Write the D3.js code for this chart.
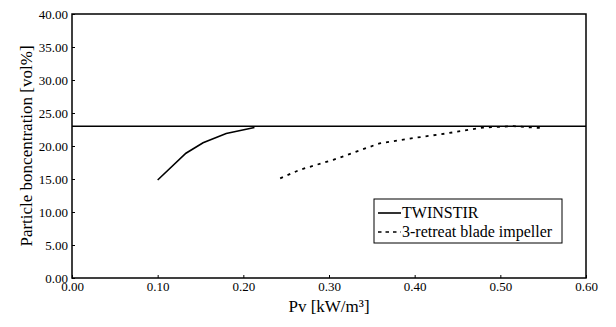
<!DOCTYPE html>
<html>
<head>
<meta charset="utf-8">
<script src="https://cdn.jsdelivr.net/npm/d3@7"></script>
<style>
  body { margin: 0; background: #fff; }
  text { font-family: "Liberation Serif", "DejaVu Serif", serif; fill: #000; }
</style>
</head>
<body>
<div id="chart"></div>
<script>
/* data */
var twinstirPv = [0.10, 0.133, 0.153, 0.18, 0.213];
var twinstirConc = [14.85, 18.9, 20.5, 21.9, 22.8];
var bladePv = [0.243, 0.266, 0.305, 0.359, 0.398, 0.437, 0.48, 0.515, 0.55];
var bladeConc = [15.1, 16.4, 17.9, 20.4, 21.2, 21.9, 22.8, 23.0, 22.7];
var initialConc = 23;
var xTicks = [0, 0.1, 0.2, 0.3, 0.4, 0.5, 0.6];
var yTicks = [0, 5, 10, 15, 20, 25, 30, 35, 40];
var legendLabels = ["TWINSTIR", "3-retreat blade impeller"];

/* size of the graphic */
var width = 616, height = 327;
var plotLeft = 72, plotRight = 586, plotTop = 14, plotBottom = 278;

var svg = d3.select("#chart")
	.append("svg")
		.attr("width", width)
		.attr("height", height);

var x = d3.scaleLinear().domain([0, 0.6]).range([plotLeft, plotRight]);
var y = d3.scaleLinear().domain([0, 40]).range([plotBottom, plotTop]);

/* axes with small inward ticks */
var xAxis = svg.append("g")
	.attr("transform", "translate(0," + plotBottom + ")")
	.call(d3.axisBottom(x).tickValues(xTicks).tickSize(-3).tickPadding(4).tickFormat(d3.format(".2f")));
var yAxis = svg.append("g")
	.attr("transform", "translate(" + plotLeft + ",0)")
	.call(d3.axisLeft(y).tickValues(yTicks).tickSize(-3).tickPadding(4).tickFormat(d3.format(".2f")));

[xAxis, yAxis].forEach(function(g) {
	g.select(".domain").remove();
	g.selectAll("line").attr("stroke", "#000");
	g.selectAll("text").style("font-family", "Liberation Serif").style("font-size", "13px");
});

/* plot frame */
svg.append("rect")
	.attr("x", plotLeft).attr("y", plotTop)
	.attr("width", plotRight - plotLeft).attr("height", plotBottom - plotTop)
	.attr("fill", "none").attr("stroke", "#000").attr("stroke-width", 1.5);

/* horizontal line of the initial concentration */
svg.append("line")
	.attr("x1", x(0)).attr("x2", x(0.6))
	.attr("y1", y(initialConc)).attr("y2", y(initialConc))
	.attr("stroke", "#000").attr("stroke-width", 1.6);

var line = d3.line().x(function(d) { return x(d[0]); }).y(function(d) { return y(d[1]); });

svg.append("path")
	.datum(d3.zip(twinstirPv, twinstirConc))
	.attr("d", line)
	.attr("fill", "none").attr("stroke", "#000").attr("stroke-width", 1.6);

svg.append("path")
	.datum(d3.zip(bladePv, bladeConc))
	.attr("d", line)
	.attr("fill", "none").attr("stroke", "#000").attr("stroke-width", 1.8)
	.style("stroke-dasharray", "3, 5");

/* legend */
var lg = svg.append("g").attr("transform", "translate(374,199)");
lg.append("rect")
	.attr("width", 188).attr("height", 44)
	.attr("fill", "#fff").attr("stroke", "#000").attr("stroke-width", 1);
legendLabels.forEach(function(name, i) {
	var ly = 14 + i * 19;
	lg.append("line")
		.attr("x1", 4).attr("x2", 27).attr("y1", ly).attr("y2", ly)
		.attr("stroke", "#000").attr("stroke-width", 1.6)
		.style("stroke-dasharray", i === 1 ? "3.5, 4" : null);
	lg.append("text")
		.attr("x", 28).attr("y", ly + 5)
		.style("font-size", "16px")
		.text(name);
});

/* axis titles */
svg.append("text")
	.attr("text-anchor", "middle")
	.attr("x", (plotLeft + plotRight) / 2).attr("y", 312)
	.style("font-size", "17px")
	.text("Pv [kW/m³]");

svg.append("text")
	.attr("text-anchor", "middle")
	.attr("transform", "translate(32," + ((plotTop + plotBottom) / 2) + ") rotate(-90)")
	.style("font-size", "17px")
	.text("Particle boncentration [vol%]");
</script>
</body>
</html>
